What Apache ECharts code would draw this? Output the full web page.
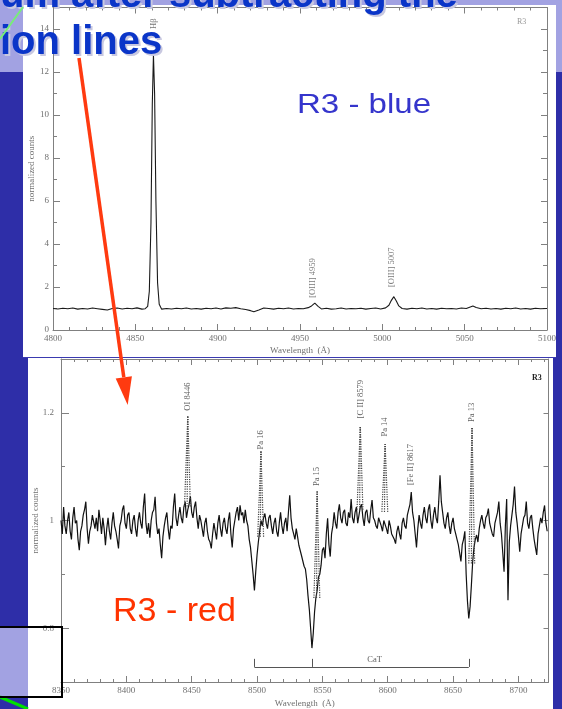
<!DOCTYPE html>
<html>
<head>
<meta charset="utf-8">
<script src="https://cdn.jsdelivr.net/npm/echarts@6/dist/echarts.min.js"></script>
<style>
  html, body { margin: 0; padding: 0; background: #2e2ea8; }
  #chart { width: 562px; height: 709px; }
</style>
</head>
<body>
<div id="chart"></div>
<script>
// ── Blue arm (R3 - blue): [wavelength Å, normalized counts] ──────────────
const blueSpectrum = [
  [4800, 1.00], [4803, 0.98], [4806, 1.01], [4809, 0.99], [4812, 1.02], [4815, 0.97],
  [4818, 1.00], [4821, 0.98], [4824, 1.02], [4827, 0.99], [4830, 0.96], [4833, 0.93],
  [4836, 1.00], [4839, 1.02], [4842, 0.98], [4845, 1.01], [4848, 0.99], [4851, 1.03],
  [4854, 0.97], [4856, 0.99], [4857.5, 1.1], [4858.5, 1.8], [4859.5, 5.0], [4860.3, 10.5],
  [4861, 12.8], [4861.7, 11.0], [4862.5, 6.0], [4863.5, 2.2], [4864.5, 1.2], [4866, 0.97],
  [4869, 1.00], [4872, 0.98], [4875, 1.01], [4878, 0.99], [4881, 1.02], [4884, 0.98],
  [4887, 1.00], [4890, 0.97], [4893, 1.01], [4896, 0.99], [4899, 1.02], [4902, 0.98],
  [4905, 1.03], [4908, 1.01], [4911, 1.04], [4914, 0.99], [4917, 0.95], [4920, 0.90],
  [4922, 0.85], [4925, 0.93], [4928, 1.02], [4931, 1.00], [4934, 0.97], [4937, 1.01],
  [4940, 0.99], [4943, 1.02], [4946, 0.98], [4949, 1.00], [4952, 0.99], [4955, 1.04],
  [4957, 1.12], [4959, 1.25], [4961, 1.10], [4963, 0.98], [4966, 1.01], [4969, 0.97],
  [4972, 0.99], [4975, 1.02], [4978, 0.98], [4981, 1.00], [4984, 0.99], [4987, 1.01],
  [4990, 0.97], [4993, 1.00], [4996, 1.02], [4999, 0.98], [5002, 1.03], [5004, 1.15],
  [5005.5, 1.38], [5007, 1.55], [5008.5, 1.35], [5010, 1.12], [5012, 1.00], [5015, 0.97],
  [5018, 1.01], [5021, 0.99], [5024, 1.02], [5027, 0.98], [5030, 1.00], [5033, 0.97],
  [5036, 1.01], [5039, 0.99], [5042, 1.00], [5045, 0.98], [5048, 1.02], [5051, 1.00],
  [5053, 1.06], [5055, 1.12], [5057, 1.05], [5060, 0.99], [5063, 1.01], [5066, 0.98],
  [5069, 1.00], [5072, 0.97], [5075, 1.01], [5078, 0.99], [5081, 1.02], [5084, 0.98],
  [5087, 1.00], [5090, 0.97], [5093, 1.01], [5096, 0.99], [5100, 1.00]
];
const blueLineNames = ['H\u03b2', '[OIII] 4959', '[OIII] 5007'];
const blueLineWaves = [4861, 4958, 5006];
const blueLineLabelY = [14.0, 1.5, 2.0];

// ── Red arm (R3 - red): [wavelength Å, normalized counts] ────────────────
const redSpectrum = [
  [8350, 1.00], [8351, 0.975], [8352, 1.025], [8353, 0.99], [8354, 0.975], [8355, 1.00],
  [8356, 1.015], [8357, 0.98], [8358, 0.965], [8359, 1.005], [8360, 1.025], [8361, 0.995],
  [8362, 1.00], [8363, 0.965], [8364, 0.945], [8365, 0.98], [8366, 0.99], [8367, 1.01],
  [8368, 1.02], [8369, 1.035], [8370, 0.985], [8371, 0.957], [8372, 0.98], [8373, 0.99],
  [8374, 1.01], [8375, 1.013], [8376, 0.985], [8377, 1.005], [8378, 0.98], [8379, 1.02],
  [8380, 1.00], [8381, 0.975], [8382, 1.005], [8383, 0.985], [8384, 0.954], [8385, 0.985],
  [8386, 1.005], [8387, 0.98], [8388, 0.965], [8389, 0.995], [8390, 1.015], [8391, 0.99],
  [8392, 0.98], [8393, 0.965], [8394, 0.948], [8395, 0.99], [8396, 1.00], [8397, 1.02],
  [8398, 1.028], [8399, 0.995], [8400, 0.985], [8401, 1.01], [8402, 1.015], [8403, 0.985],
  [8404, 0.975], [8405, 1.00], [8406, 1.01], [8407, 0.985], [8408, 0.97], [8409, 1.00],
  [8410, 1.015], [8411, 0.995], [8412, 0.985], [8413, 1.025], [8414, 1.05], [8415, 0.995],
  [8416, 0.975], [8417, 0.995], [8418, 0.968], [8419, 1.00], [8420, 1.015], [8421, 1.02],
  [8422, 1.044], [8423, 0.995], [8424, 0.975], [8425, 0.985], [8426, 0.955], [8427, 0.93],
  [8428, 0.97], [8429, 0.99], [8430, 1.005], [8431, 1.015], [8432, 0.985], [8433, 0.965],
  [8434, 0.99], [8435, 0.985], [8436, 1.025], [8437, 1.05], [8438, 1.005], [8439, 0.99],
  [8440, 1.01], [8441, 1.025], [8442, 1.005], [8443, 0.995], [8444, 1.025], [8445, 1.035],
  [8446, 1.005], [8447, 1.02], [8448, 1.03], [8449, 1.045], [8450, 1.015], [8451, 1.005],
  [8452, 1.025], [8453, 1.035], [8454, 1.005], [8455, 0.985], [8456, 1.01], [8457, 1.00],
  [8458, 0.985], [8459, 0.97], [8460, 0.995], [8461, 1.005], [8462, 0.98], [8463, 0.965],
  [8464, 0.96], [8465, 0.948], [8466, 0.975], [8467, 0.995], [8468, 0.98], [8469, 0.965],
  [8470, 0.995], [8471, 1.01], [8472, 0.985], [8473, 0.97], [8474, 0.995], [8475, 1.005],
  [8476, 0.985], [8477, 0.975], [8478, 1.00], [8479, 1.015], [8480, 0.975], [8481, 0.95],
  [8482, 0.985], [8483, 1.00], [8484, 1.015], [8485, 1.025], [8486, 1.00], [8487, 1.028],
  [8488, 1.01], [8489, 1.015], [8490, 0.995], [8491, 1.02], [8492, 1.00], [8493, 0.99],
  [8494, 0.965], [8495, 0.95], [8496, 0.925], [8497, 0.90], [8498, 0.87], [8499, 0.905],
  [8500, 0.936], [8501, 0.96], [8502, 0.98], [8503, 1.00], [8504, 0.99], [8505, 1.005],
  [8506, 1.013], [8507, 0.995], [8508, 0.985], [8509, 1.005], [8510, 1.01], [8511, 0.99],
  [8512, 0.975], [8513, 0.995], [8514, 1.005], [8515, 0.98], [8516, 0.97], [8517, 0.995],
  [8518, 1.015], [8519, 0.99], [8520, 0.975], [8521, 0.995], [8522, 1.005], [8523, 0.98],
  [8524, 1.015], [8525, 1.047], [8526, 1.005], [8527, 0.985], [8528, 0.975], [8529, 0.965],
  [8530, 0.985], [8531, 0.97], [8532, 0.954], [8533, 0.955], [8534, 0.935], [8535, 0.935],
  [8536, 0.915], [8537, 0.91], [8538, 0.89], [8539, 0.86], [8540, 0.835], [8541, 0.80],
  [8542, 0.763], [8543, 0.79], [8544, 0.83], [8545, 0.856], [8546, 0.87], [8547, 0.895],
  [8548, 0.90], [8549, 0.917], [8550, 0.945], [8551, 0.95], [8552, 0.93], [8553, 0.975],
  [8554, 1.004], [8555, 0.955], [8556, 0.933], [8557, 0.975], [8558, 0.99], [8559, 1.015],
  [8560, 0.995], [8561, 0.985], [8562, 1.015], [8563, 1.03], [8564, 1.005], [8565, 0.995],
  [8566, 1.015], [8567, 1.02], [8568, 0.995], [8569, 0.99], [8570, 1.015], [8571, 1.005],
  [8572, 1.04], [8573, 1.005], [8574, 0.995], [8575, 1.015], [8576, 1.025], [8577, 0.995],
  [8578, 1.01], [8579, 1.025], [8580, 1.03], [8581, 1.005], [8582, 0.99], [8583, 1.015],
  [8584, 1.02], [8585, 1.00], [8586, 0.995], [8587, 1.02], [8588, 1.038], [8589, 1.005],
  [8590, 1.00], [8591, 0.99], [8592, 0.985], [8593, 1.005], [8594, 1.005], [8595, 0.99],
  [8596, 0.98], [8597, 1.00], [8598, 1.00], [8599, 0.985], [8600, 0.975], [8601, 1.00],
  [8602, 0.99], [8603, 0.975], [8604, 0.975], [8605, 0.965], [8606, 0.957], [8607, 0.98],
  [8608, 0.99], [8609, 0.975], [8610, 0.965], [8611, 0.995], [8612, 1.005], [8613, 0.99],
  [8614, 0.985], [8615, 1.01], [8616, 1.02], [8617, 1.03], [8618, 1.053], [8619, 1.015],
  [8620, 1.00], [8621, 0.975], [8622, 0.95], [8623, 0.985], [8624, 1.01], [8625, 0.995],
  [8626, 0.985], [8627, 1.01], [8628, 1.025], [8629, 1.005], [8630, 0.995], [8631, 1.02],
  [8632, 1.03], [8633, 1.00], [8634, 0.985], [8635, 1.01], [8636, 1.025], [8637, 1.005],
  [8638, 0.995], [8639, 1.035], [8640, 1.084], [8641, 1.035], [8642, 1.015], [8643, 0.995],
  [8644, 0.985], [8645, 1.005], [8646, 1.015], [8647, 0.99], [8648, 0.975], [8649, 0.995],
  [8650, 1.005], [8651, 0.985], [8652, 0.975], [8653, 0.965], [8654, 0.955], [8655, 0.94],
  [8656, 0.924], [8657, 0.955], [8658, 0.965], [8659, 0.98], [8660, 0.90], [8661, 0.85],
  [8662, 0.818], [8663, 0.84], [8664, 0.88], [8665, 0.924], [8666, 0.95], [8667, 0.965],
  [8668, 0.973], [8669, 0.96], [8670, 0.985], [8671, 1.00], [8672, 1.01], [8673, 0.995],
  [8674, 0.985], [8675, 1.005], [8676, 1.01], [8677, 1.022], [8678, 0.995], [8679, 0.985],
  [8680, 0.975], [8681, 0.97], [8682, 0.995], [8683, 1.005], [8684, 1.015], [8685, 1.035],
  [8686, 0.995], [8687, 0.975], [8688, 0.94], [8689, 0.905], [8690, 0.99], [8691, 1.04],
  [8692, 0.852], [8693, 0.96], [8694, 0.99], [8695, 1.01], [8696, 1.03], [8697, 1.063],
  [8698, 1.015], [8699, 0.995], [8700, 0.97], [8701, 0.942], [8702, 0.975], [8703, 0.99],
  [8704, 1.005], [8705, 1.01], [8706, 1.035], [8707, 0.995], [8708, 0.985], [8709, 1.005],
  [8710, 1.01], [8711, 0.985], [8712, 0.965], [8713, 0.95], [8714, 0.936], [8715, 0.975],
  [8716, 0.99], [8717, 1.005], [8718, 0.995], [8719, 1.015], [8720, 1.028], [8721, 0.995],
  [8722, 0.98]
];
// line identifications: name, wavelength, bottom/top of the dotted marker
const redLineNames = ['OI 8446', 'Pa 16', 'Pa 15', '[C II] 8579', 'Pa 14', '[Fe II] 8617', 'Pa 13'];
const redLineWaves = [8447, 8503, 8546, 8579, 8598, 8617.5, 8664.5];
const redLineBottom = [1.026, 0.97, 0.856, 1.02, 1.016, null, 0.92];
const redLineTop = [1.194, 1.128, 1.054, 1.176, 1.142, null, 1.174];
const redLineLabelY = [1.204, 1.132, 1.064, 1.19, 1.156, 1.066, 1.183];
// Ca triplet bracket
const catWaves = [8498, 8542, 8662];
const catLabelWave = 8590;
const redYLabels = [0.8, 1, 1.2];

// ── Shared axis styling ───────────────────────────────────────────────
const AX_FONT = 'Liberation Serif';
const AX_COLOR = '#808080';

function frameAxis(extra) {
  return Object.assign({
    type: 'value',
    splitLine: { show: false },
    axisLine: { show: true, onZero: false, lineStyle: { color: AX_COLOR, width: 1 } },
    axisTick: { show: true, inside: true, length: 6, lineStyle: { color: AX_COLOR } },
    minorTick: { show: true, length: 3, lineStyle: { color: AX_COLOR } },
    axisLabel: { show: false },
    nameMoveOverlap: false,
  }, extra);
}
const labelStyle = { show: true, fontFamily: AX_FONT, fontSize: 9, color: '#707070', formatter: v => String(v) };
const nameStyle = { fontFamily: AX_FONT, fontSize: 9, color: '#707070' };

// markLine data: fan of dotted lines per line ID, plus the CaT bracket
const redMarks = [];
redLineWaves.forEach((w, i) => {
  if (redLineBottom[i] == null) return;
  [-2.5, -0.5, 2].forEach(dx => {
    redMarks.push([{ coord: [w + dx, redLineBottom[i]] }, { coord: [w, redLineTop[i]] }]);
  });
});
const bracketStyle = { type: 'solid', color: '#555', width: 1 };
redMarks.push([{ coord: [catWaves[0], 0.728], lineStyle: bracketStyle }, { coord: [catWaves[2], 0.728] }]);
catWaves.forEach(w => {
  redMarks.push([{ coord: [w, 0.728], lineStyle: bracketStyle }, { coord: [w, 0.743] }]);
});

const chart = echarts.init(document.getElementById('chart'), null, { renderer: 'canvas' });

chart.setOption({
  animation: false,
  backgroundColor: '#2e2ea8',
  grid: [
    { left: 53, right: 15, top: 7.5, bottom: 379 },
    { left: 61, right: 13.5, top: 359, bottom: 26 },
  ],
  xAxis: [
    frameAxis({ gridIndex: 0, position: 'bottom', min: 4800, max: 5100, interval: 50,
      minorTick: { show: true, splitNumber: 5, length: 3, lineStyle: { color: AX_COLOR } },
      axisLabel: Object.assign({ margin: 4 }, labelStyle),
      name: 'Wavelength  (\u00c5)', nameLocation: 'middle', nameGap: 16, nameTextStyle: nameStyle }),
    frameAxis({ gridIndex: 0, position: 'top', min: 4800, max: 5100, interval: 50,
      minorTick: { show: true, splitNumber: 5, length: 3, lineStyle: { color: AX_COLOR } } }),
    frameAxis({ gridIndex: 1, position: 'bottom', min: 8350, max: 8723, interval: 50,
      minorTick: { show: true, splitNumber: 5, length: 3, lineStyle: { color: AX_COLOR } },
      axisLabel: Object.assign({ margin: 4, showMaxLabel: false }, labelStyle),
      name: 'Wavelength  (\u00c5)', nameLocation: 'middle', nameGap: 17, nameTextStyle: nameStyle }),
    frameAxis({ gridIndex: 1, position: 'top', min: 8350, max: 8723, interval: 50,
      minorTick: { show: true, splitNumber: 5, length: 3, lineStyle: { color: AX_COLOR } } }),
  ],
  yAxis: [
    frameAxis({ gridIndex: 0, position: 'left', min: 0, max: 15, interval: 2,
      minorTick: { show: true, splitNumber: 2, length: 4, lineStyle: { color: AX_COLOR } },
      axisTick: { show: true, inside: true, length: 7, lineStyle: { color: AX_COLOR } },
      axisLabel: Object.assign({ margin: 4, showMaxLabel: false }, labelStyle),
      name: 'normalized counts', nameLocation: 'middle', nameGap: 17, nameTextStyle: nameStyle }),
    frameAxis({ gridIndex: 0, position: 'right', min: 0, max: 15, interval: 2,
      minorTick: { show: true, splitNumber: 2, length: 4, lineStyle: { color: AX_COLOR } } }),
    frameAxis({ gridIndex: 1, position: 'left', min: 0.7, max: 1.3, interval: 0.1,
      minorTick: { show: false },
      axisTick: { show: true, inside: true, length: 4, lineStyle: { color: AX_COLOR } },
      axisLabel: Object.assign({}, labelStyle, { margin: 7, customValues: redYLabels,
        formatter: v => String(Math.round(v * 10) / 10) }),
      name: 'normalized counts', nameLocation: 'middle', nameGap: 21, nameTextStyle: nameStyle }),
    frameAxis({ gridIndex: 1, position: 'left', min: 0.7, max: 1.3,
      axisLine: { show: false }, minorTick: { show: false },
      axisTick: { show: true, inside: true, length: 8, customValues: redYLabels, lineStyle: { color: AX_COLOR } } }),
    frameAxis({ gridIndex: 1, position: 'right', min: 0.7, max: 1.3, interval: 0.1,
      minorTick: { show: false },
      axisTick: { show: true, inside: true, length: 5, lineStyle: { color: AX_COLOR } } }),
  ],
  series: [
    {
      type: 'line', xAxisIndex: 0, yAxisIndex: 0, data: blueSpectrum,
      showSymbol: false, symbol: 'none', silent: true,
      lineStyle: { color: '#1a1a1a', width: 1.1 },
    },
    {
      type: 'scatter', xAxisIndex: 0, yAxisIndex: 0, symbolSize: 0, silent: true,
      data: blueLineWaves.map((w, i) => [w, blueLineLabelY[i], blueLineNames[i]]),
      label: {
        show: true, position: 'inside', rotate: 90, align: 'left', verticalAlign: 'middle',
        formatter: p => p.data[2], fontFamily: AX_FONT, fontSize: 8.5, color: '#555',
      },
    },
    {
      type: 'line', xAxisIndex: 2, yAxisIndex: 2, data: redSpectrum,
      showSymbol: false, symbol: 'none', silent: true,
      lineStyle: { color: '#111', width: 1.2 },
      markLine: {
        silent: true, symbol: 'none', animation: false,
        label: { show: false },
        lineStyle: { type: 'dotted', color: '#444', width: 1.2 },
        data: redMarks,
      },
    },
    {
      type: 'scatter', xAxisIndex: 2, yAxisIndex: 2, symbolSize: 0, silent: true,
      data: redLineWaves.map((w, i) => [w, redLineLabelY[i], redLineNames[i]]),
      label: {
        show: true, position: 'inside', rotate: 90, align: 'left', verticalAlign: 'middle',
        formatter: p => p.data[2], fontFamily: AX_FONT, fontSize: 8.5, color: '#333',
      },
    },
    {
      type: 'scatter', xAxisIndex: 2, yAxisIndex: 2, symbolSize: 0, silent: true,
      data: [[catLabelWave, 0.741, 'CaT']],
      label: {
        show: true, position: 'inside', formatter: p => p.data[2],
        fontFamily: AX_FONT, fontSize: 8.5, color: '#333',
      },
    },
  ],
  graphic: [
    // slide background: lavender band at top, white figure panels
    { type: 'rect', z: -30, shape: { x: 0, y: 0, width: 562, height: 72 }, style: { fill: '#a2a2e2' } },
    { type: 'rect', z: -20, shape: { x: 23, y: 5, width: 533, height: 352 }, style: { fill: '#ffffff' } },
    { type: 'rect', z: -20, shape: { x: 28, y: 358, width: 525, height: 351 }, style: { fill: '#ffffff' } },
    { type: 'line', z: -19, shape: { x1: 23, y1: 357.5, x2: 556, y2: 357.5 }, style: { stroke: '#3a3ab0', lineWidth: 1 } },
    { type: 'rect', z: -20, shape: { x: 0, y: 627, width: 28, height: 70 }, style: { fill: '#a2a2e2' } },
    // "R3" panel tags
    { type: 'text', z: 10, x: 517, y: 22, style: { text: 'R3', font: '8px "Liberation Serif"', fill: '#999', verticalAlign: 'middle' } },
    { type: 'text', z: 10, x: 532, y: 378, style: { text: 'R3', font: 'bold 8px "Liberation Serif"', fill: '#222', verticalAlign: 'middle' } },
    // slide captions
    { type: 'text', z: 50, x: 297, y: 105, scaleX: 1.18, style: { text: 'R3 - blue', font: '28px "Liberation Sans"', fill: '#3535cc', verticalAlign: 'middle' } },
    { type: 'text', z: 50, x: 113, y: 612, style: { text: 'R3 - red', font: '34px "Liberation Sans"', fill: '#ff3300', verticalAlign: 'middle' } },
    // slide title (cut off by the top edge), with pale shadow
    { type: 'text', z: 60, x: 2, y: -2, style: { text: 'um after subtracting the', font: 'bold 40px "Liberation Sans"', fill: '#c8c8e0', verticalAlign: 'middle' } },
    { type: 'text', z: 61, x: 0, y: -4, style: { text: 'um after subtracting the', font: 'bold 40px "Liberation Sans"', fill: '#0a35c8', verticalAlign: 'middle' } },
    { type: 'text', z: 60, x: 2, y: 45, style: { text: 'ion lines', font: 'bold 40px "Liberation Sans"', fill: '#c8c8e0', verticalAlign: 'middle' } },
    { type: 'text', z: 61, x: 0, y: 43, style: { text: 'ion lines', font: 'bold 40px "Liberation Sans"', fill: '#0a35c8', verticalAlign: 'middle' } },
    // red arrow
    { type: 'line', z: 70, shape: { x1: 79, y1: 58, x2: 123.8, y2: 377.3 }, style: { stroke: '#ff3a10', lineWidth: 3.5 } },
    { type: 'polygon', z: 70, shape: { points: [[127.7, 405], [131.9, 376.2], [115.7, 378.4]] }, style: { fill: '#ff3a10' } },
    // green connector strokes and black box
    { type: 'line', z: 70, shape: { x1: 0, y1: 39, x2: 23, y2: 7 }, style: { stroke: '#77ee77', lineWidth: 2 } },
    { type: 'line', z: 70, shape: { x1: 0, y1: 697, x2: 28, y2: 709 }, style: { stroke: '#00e000', lineWidth: 3 } },
    { type: 'rect', z: 70, shape: { x: -2, y: 627, width: 64, height: 70 }, style: { fill: 'none', stroke: '#000', lineWidth: 2 } },
  ],
});
</script>
</body>
</html>
